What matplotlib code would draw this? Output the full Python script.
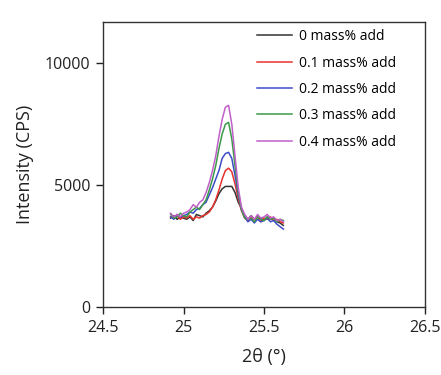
#!/usr/bin/env python3

import matplotlib
matplotlib.use("Agg")
import matplotlib.pyplot as plt


TWO_THETA = [24.92 + 0.02 * i for i in range(36)]

SERIES_LABELS = ["0 mass% add", "0.1 mass% add", "0.2 mass% add",
                 "0.3 mass% add", "0.4 mass% add"]

INT_0 = [3650, 3750, 3600, 3700, 3650, 3600, 3700, 3550, 3800, 3750, 3700, 3850,
         3950, 4100, 4350, 4650, 4850, 4950, 4950, 4950, 4700, 4300, 4050, 3750,
         3600, 3750, 3600, 3700, 3650, 3550, 3700, 3600, 3650, 3500, 3450, 3350]
INT_01 = [3700, 3650, 3750, 3600, 3700, 3650, 3750, 3600, 3700, 3650, 3750, 3800,
          3900, 4100, 4400, 4800, 5250, 5600, 5700, 5550, 5050, 4450, 3950, 3650,
          3550, 3700, 3600, 3700, 3500, 3650, 3600, 3700, 3550, 3600, 3500, 3450]
INT_02 = [3700, 3600, 3800, 3700, 3750, 3800, 3900, 3850, 4000, 4050, 4200, 4300,
          4600, 4900, 5250, 5600, 6100, 6300, 6350, 6100, 5400, 4600, 4000, 3700,
          3500, 3600, 3450, 3600, 3500, 3550, 3650, 3500, 3550, 3400, 3300, 3200]
INT_03 = [3800, 3650, 3700, 3850, 3750, 3700, 3900, 4000, 4100, 4000, 4200, 4400,
          4800, 5250, 5800, 6500, 7100, 7500, 7580, 6900, 5800, 4700, 4000, 3650,
          3600, 3650, 3500, 3700, 3600, 3550, 3700, 3600, 3650, 3500, 3600, 3550]
INT_04 = [3850, 3700, 3800, 3700, 3850, 3900, 4000, 4200, 4100, 4300, 4400, 4700,
          5100, 5600, 6200, 7000, 7700, 8200, 8280, 7500, 6200, 4900, 4100, 3800,
          3600, 3750, 3600, 3800, 3650, 3700, 3800, 3650, 3700, 3550, 3600, 3500]

X_TICKS = [24.5, 25, 25.5, 26, 26.5]
X_TICK_LABELS = ["24.5", "25", "25.5", "26", "26.5"]
Y_TICKS = [0, 5000, 10000]

COLORS = ["#333333", "#e8322e", "#3e4bc8", "#3a9a48", "#c060c8"]


def main():
    plt.rcParams["font.family"] = ["Open Sans", "DejaVu Sans"]

    fig = plt.figure(figsize=(4.41, 3.75), dpi=100)
    ax = fig.add_axes([0.2336, 0.1813, 0.7301, 0.76])

    series = [INT_0, INT_01, INT_02, INT_03, INT_04]
    for values, label, color in zip(series, SERIES_LABELS, COLORS):
        ax.plot(TWO_THETA, values, color=color, lw=1.1, label=label)

    ax.set_xlim(24.5, 26.5)
    ax.set_ylim(0, 11700)
    ax.set_xticks(X_TICKS)
    ax.set_xticklabels(X_TICK_LABELS)
    ax.set_yticks(Y_TICKS)
    ax.tick_params(direction="out", length=5, width=1, labelsize=11.5,
                   colors="#222222", pad=4)
    for spine in ax.spines.values():
        spine.set_color("#333333")
        spine.set_linewidth(1)

    ax.set_xlabel("2θ (°)", fontsize=13, labelpad=9, color="#222222")
    ax.set_ylabel("Intensity (CPS)", fontsize=13, labelpad=8, color="#222222")

    ax.legend(loc="upper left", bbox_to_anchor=(0.478, 0.975), frameon=False,
              fontsize=10, handlelength=2.5, handletextpad=0.55,
              labelspacing=0.82, borderaxespad=0, borderpad=0)

    fig.savefig("out.png", dpi=100)


if __name__ == "__main__":
    main()
